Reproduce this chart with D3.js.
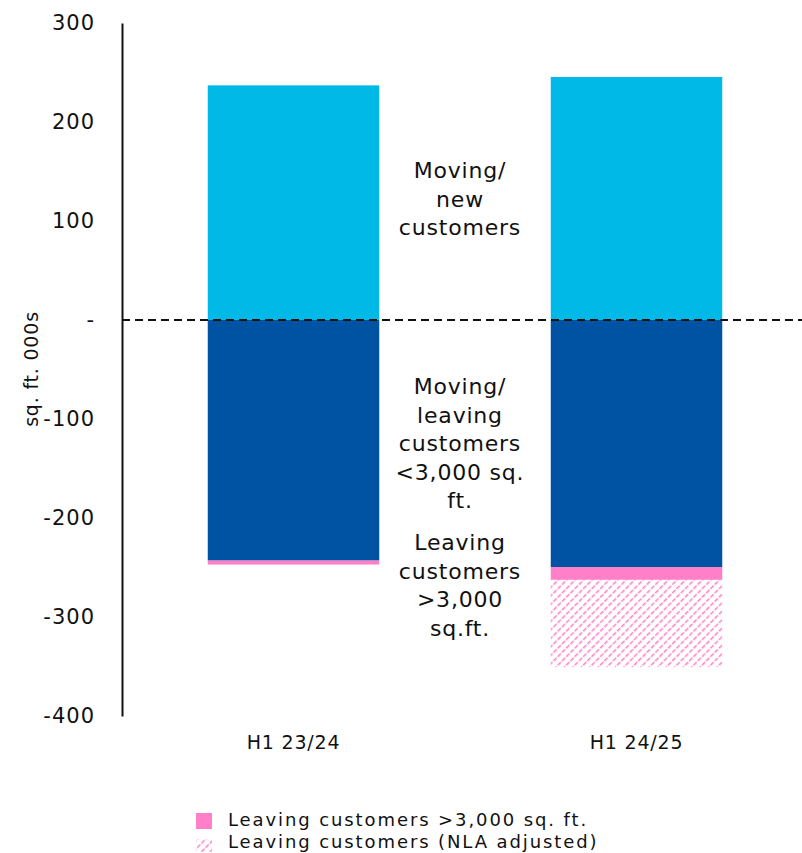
<!DOCTYPE html>
<html><head><meta charset="utf-8">
<script src="https://cdn.jsdelivr.net/npm/d3@7"></script>
<style>body{margin:0;background:#fff}svg{display:block}text{font-family:"DejaVu Sans",sans-serif;fill:#111}</style>
</head><body>
<script>
const categories = ["H1 23/24", "H1 24/25"];
const movingNew = [237, 245.5];
const movingLeaving = [-243, -249.5];
const leavingLarge = [-4, -13];
const leavingNLA = [0, -88];
const yTicks = [300, 200, 100, 0, -100, -200, -300, -400];
const yTickLabels = ["300", "200", "100", "-", "-100", "-200", "-300", "-400"];
const annotations = [
  {lines: ["Moving/", "new", "customers"], y: 170},
  {lines: ["Moving/", "leaving", "customers", "<3,000 sq.", "ft."], y: 386},
  {lines: ["Leaving", "customers", ">3,000", "sq.ft."], y: 542}
];
const legendItems = ["Leaving customers >3,000 sq. ft.", "Leaving customers (NLA adjusted)"];

const W = 802, H = 853;
const FONT = '"DejaVu Sans",sans-serif';
const svg = d3.select("body").append("svg").attr("width", W).attr("height", H);
const defs = svg.append("defs");
const pat = defs.append("pattern").attr("id", "hatch").attr("patternUnits", "userSpaceOnUse")
  .attr("width", 6).attr("height", 6).attr("patternTransform", "rotate(45)");
pat.append("rect").attr("width", 6).attr("height", 6).attr("fill", "#fff");
pat.append("line").attr("x1", 0).attr("y1", 0).attr("x2", 0).attr("y2", 6)
  .attr("stroke", "#ff80c8").attr("stroke-width", 3).attr("stroke-dasharray", "4 1.5");

const y = d3.scaleLinear().domain([-400, 300]).range([716, 23]);
const x = d3.scaleBand().domain(categories).range([122, 808]).paddingInner(0.5).paddingOuter(0.25);

const colors = {new: "#00b9e7", leave: "#0052a2", pink: "#ff80c8"};

categories.forEach((c, i) => {
  const bx = x(c), bw = x.bandwidth();
  svg.append("rect").attr("x", bx).attr("width", bw).attr("y", y(movingNew[i])).attr("height", y(0) - y(movingNew[i])).attr("fill", colors.new);
  svg.append("rect").attr("x", bx).attr("width", bw).attr("y", y(0)).attr("height", y(movingLeaving[i]) - y(0)).attr("fill", colors.leave);
  const b1 = movingLeaving[i], b2 = b1 + leavingLarge[i], b3 = b2 + leavingNLA[i];
  svg.append("rect").attr("x", bx).attr("width", bw).attr("y", y(b1)).attr("height", y(b2) - y(b1)).attr("fill", colors.pink);
  if (leavingNLA[i] !== 0)
    svg.append("rect").attr("x", bx).attr("width", bw).attr("y", y(b2)).attr("height", y(b3) - y(b2)).attr("fill", "url(#hatch)");
});

const yAxis = d3.axisLeft(y).tickValues(yTicks).tickSize(0).tickPadding(27)
  .tickFormat((d, i) => yTickLabels[i]);
const ga = svg.append("g").attr("transform", "translate(122,0)").call(yAxis);
ga.select(".domain").attr("stroke", "#111").attr("stroke-width", 2);
ga.selectAll("text").style("font-size", "21px").style("letter-spacing", "1px").attr("fill", "#111").style("font-family", FONT);

svg.append("line").attr("x1", 122).attr("x2", W).attr("y1", y(0)).attr("y2", y(0))
  .attr("stroke", "#111").attr("stroke-width", 2).attr("stroke-dasharray", "8 5");

const xAxis = d3.axisBottom(x).tickSize(0).tickPadding(0);
const gx = svg.append("g").attr("transform", "translate(0,735)").call(xAxis);
gx.select(".domain").remove();
gx.selectAll("text").style("font-size", "19px").style("letter-spacing", "0.8px").attr("fill", "#111").style("font-family", FONT);

svg.append("text").attr("transform", "translate(31,369) rotate(-90)").attr("text-anchor", "middle")
  .attr("dy", "0.35em").style("font-size", "19px").style("letter-spacing", "0.8px").text("sq. ft. 000s");

annotations.forEach(a => {
  const t = svg.append("text").attr("text-anchor", "middle").style("font-size", "22px").style("letter-spacing", "0.8px");
  a.lines.forEach((l, j) => t.append("tspan").attr("x", 460).attr("y", a.y + 8 + j * 28.5).text(l));
});

svg.append("rect").attr("x", 196).attr("y", 813).attr("width", 16).attr("height", 16).attr("fill", colors.pink);
svg.append("rect").attr("x", 196).attr("y", 839).attr("width", 16).attr("height", 13).attr("fill", "url(#hatch)");
legendItems.forEach((t, i) => {
  svg.append("text").attr("x", 228).attr("y", 826 + i * 22).style("font-size", "18px").style("letter-spacing", "1.9px").text(t);
});
</script>
</body></html>
